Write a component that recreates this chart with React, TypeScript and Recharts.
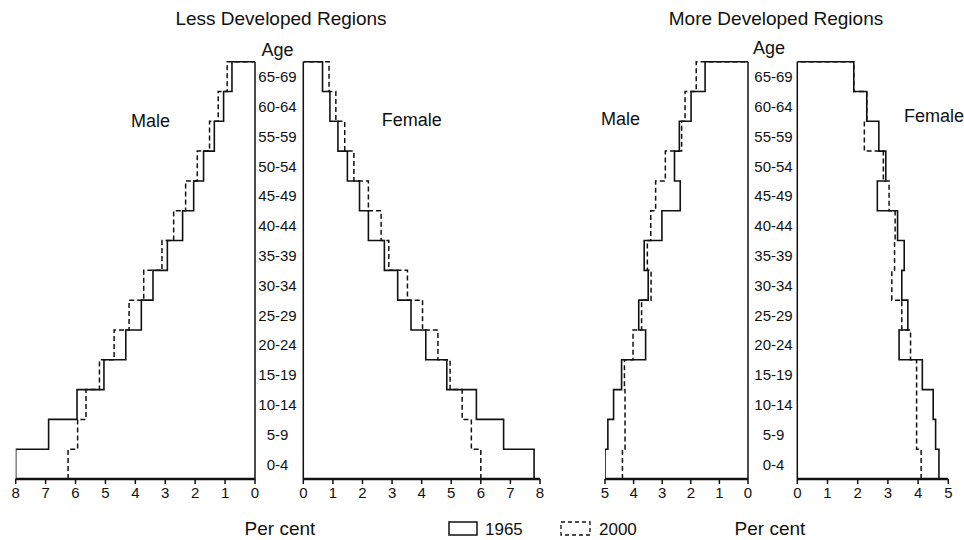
import React from "react"
import { LineChart, Line, XAxis, YAxis, ReferenceLine } from "recharts"

// five-year age groups, youngest first
const ageGroups = [
  "0-4", "5-9", "10-14", "15-19", "20-24", "25-29", "30-34",
  "35-39", "40-44", "45-49", "50-54", "55-59", "60-64", "65-69",
]

// per cent of total population in each age group
const lessMale1965 = [8.0, 6.9, 5.95, 5.05, 4.32, 3.8, 3.41, 2.93, 2.42, 2.05, 1.72, 1.36, 1.05, 0.77]
const lessMale2000 = [6.25, 5.93, 5.65, 5.2, 4.71, 4.21, 3.72, 3.11, 2.72, 2.32, 1.93, 1.52, 1.23, 0.93]
const lessFemale1965 = [7.8, 6.77, 5.85, 4.85, 4.14, 3.64, 3.19, 2.74, 2.2, 1.9, 1.49, 1.17, 0.9, 0.65]
const lessFemale2000 = [6.0, 5.68, 5.37, 4.96, 4.55, 4.03, 3.52, 2.89, 2.63, 2.2, 1.71, 1.4, 1.1, 0.87]

const moreMale1965 = [5.0, 4.9, 4.7, 4.42, 3.58, 3.82, 3.49, 3.63, 3.01, 2.37, 2.57, 2.4, 1.99, 1.5]
const moreMale2000 = [4.39, 4.3, 4.3, 4.32, 4.02, 3.72, 3.39, 3.52, 3.4, 3.23, 2.89, 2.32, 2.2, 1.81]
const moreFemale1965 = [4.69, 4.58, 4.5, 4.14, 3.37, 3.66, 3.46, 3.54, 3.32, 2.65, 2.93, 2.7, 2.3, 1.87]
const moreFemale2000 = [4.1, 3.95, 3.95, 3.95, 3.75, 3.46, 3.13, 3.22, 3.24, 3.04, 2.85, 2.22, 2.3, 1.87]

const lessTicks = [0, 1, 2, 3, 4, 5, 6, 7, 8]
const moreTicks = [0, 1, 2, 3, 4, 5]

const FONT = "'Liberation Sans', Arial, Helvetica, sans-serif"
const INK = "#111"

// turn per-group values into a stepped outline: each group is a vertical
// run from its lower to its upper bound, closed back to zero at the top
function stepRows(a: number[], b: number[]) {
  const rows: { y: number; s1965: number; s2000: number }[] = []
  a.forEach((v, i) => {
    rows.push({ y: i, s1965: v, s2000: b[i] })
    rows.push({ y: i + 1, s1965: v, s2000: b[i] })
  })
  rows.push({ y: a.length, s1965: 0, s2000: 0 })
  return rows
}

const ageTicks = ageGroups.map((_, i) => i + 0.5)

const AgeTick = ({ x, y, payload, shift }: any) => (
  <text
    x={x + shift}
    y={y}
    textAnchor="middle"
    dominantBaseline="central"
    fontSize={15}
    fontFamily={FONT}
    fill={INK}
  >
    {ageGroups[Math.floor(payload.value)]}
  </text>
)

interface PanelProps {
  male: boolean
  rows: { y: number; s1965: number; s2000: number }[]
  ticks: number[]
  left: number
  width: number
  margin: { left: number; right: number }
  ageShift?: number
}

function Panel({ male, rows, ticks, left, width, margin, ageShift = 22 }: PanelProps) {
  const max = ticks[ticks.length - 1]
  return (
    <div style={{ position: "absolute", left, top: 0 }}>
      <LineChart
        width={width}
        height={540}
        data={rows}
        layout="vertical"
        margin={{ top: 61.7, bottom: 31, left: margin.left, right: margin.right }}
      >
        <XAxis
          type="number"
          domain={[0, max]}
          ticks={ticks}
          reversed={male}
          height={30}
          axisLine={{ stroke: INK, strokeWidth: 2.5 }}
          tickLine={{ stroke: INK, strokeWidth: 1.5 }}
          tickSize={5}
          tickMargin={3}
          tick={{ fontSize: 15, fill: INK, fontFamily: FONT }}
          allowDataOverflow
        />
        {male ? (
          <YAxis
            type="number"
            dataKey="y"
            orientation="right"
            domain={[0, ageGroups.length]}
            reversed
            ticks={ageTicks}
            width={50}
            axisLine={{ stroke: INK, strokeWidth: 1.5 }}
            tickLine={false}
            tickSize={0}
            tickMargin={0}
            tick={<AgeTick shift={ageShift} />}
            interval={0}
          />
        ) : (
          <YAxis type="number" dataKey="y" domain={[0, ageGroups.length]} reversed hide width={0} />
        )}
        {!male && <ReferenceLine x={0} stroke={INK} strokeWidth={1.5} />}
        <Line
          type="linear"
          dataKey="s2000"
          stroke={INK}
          strokeWidth={1.5}
          strokeDasharray="5 3"
          dot={false}
          isAnimationActive={false}
        />
        <Line
          type="linear"
          dataKey="s1965"
          stroke={INK}
          strokeWidth={1.6}
          dot={false}
          isAnimationActive={false}
        />
      </LineChart>
    </div>
  )
}

const Label = ({ x, y, size = 18, anchor = "middle", children }: any) => (
  <text x={x} y={y} fontSize={size} fontFamily={FONT} fill={INK} textAnchor={anchor}>
    {children}
  </text>
)

export default function App() {
  return (
    <div
      style={{
        position: "absolute",
        left: 0,
        top: 0,
        width: 964,
        height: 540,
        background: "#fff",
        overflow: "hidden",
      }}
    >
      <Panel
        male
        rows={stepRows(lessMale1965, lessMale2000)}
        ticks={lessTicks}
        left={0}
        width={320}
        margin={{ left: 15.7, right: 15 }}
        ageShift={22.5}
      />
      <Panel
        male={false}
        rows={stepRows(lessFemale1965, lessFemale2000)}
        ticks={lessTicks}
        left={290}
        width={270}
        margin={{ left: 13.3, right: 20 }}
      />
      <Panel
        male
        rows={stepRows(moreMale1965, moreMale2000)}
        ticks={moreTicks}
        left={590}
        width={250}
        margin={{ left: 15, right: 42 }}
        ageShift={25.5}
      />
      <Panel
        male={false}
        rows={stepRows(moreFemale1965, moreFemale2000)}
        ticks={moreTicks}
        left={785}
        width={179}
        margin={{ left: 12.3, right: 15.7 }}
      />

      <svg
        width={964}
        height={540}
        style={{ position: "absolute", left: 0, top: 0, pointerEvents: "none" }}
      >
        <Label x={281} y={25} size={19}>Less Developed Regions</Label>
        <Label x={776} y={25} size={19}>More Developed Regions</Label>

        <Label x={277.5} y={56}>Age</Label>
        <Label x={769} y={54}>Age</Label>

        <Label x={150.5} y={127}>Male</Label>
        <Label x={411.7} y={126}>Female</Label>
        <Label x={620.5} y={125}>Male</Label>
        <Label x={904} y={122} anchor="start">Female</Label>

        <Label x={280} y={535} size={19}>Per cent</Label>
        <Label x={770} y={535} size={19}>Per cent</Label>

        {/* legend */}
        <rect x={449} y={522} width={28} height={13} fill="none" stroke={INK} strokeWidth={1.5} />
        <Label x={485} y={535} size={17} anchor="start">1965</Label>
        <rect
          x={561}
          y={522}
          width={29}
          height={13}
          fill="none"
          stroke={INK}
          strokeWidth={1.3}
          strokeDasharray="4 3"
        />
        <Label x={599} y={535} size={17} anchor="start">2000</Label>
      </svg>
    </div>
  )
}
